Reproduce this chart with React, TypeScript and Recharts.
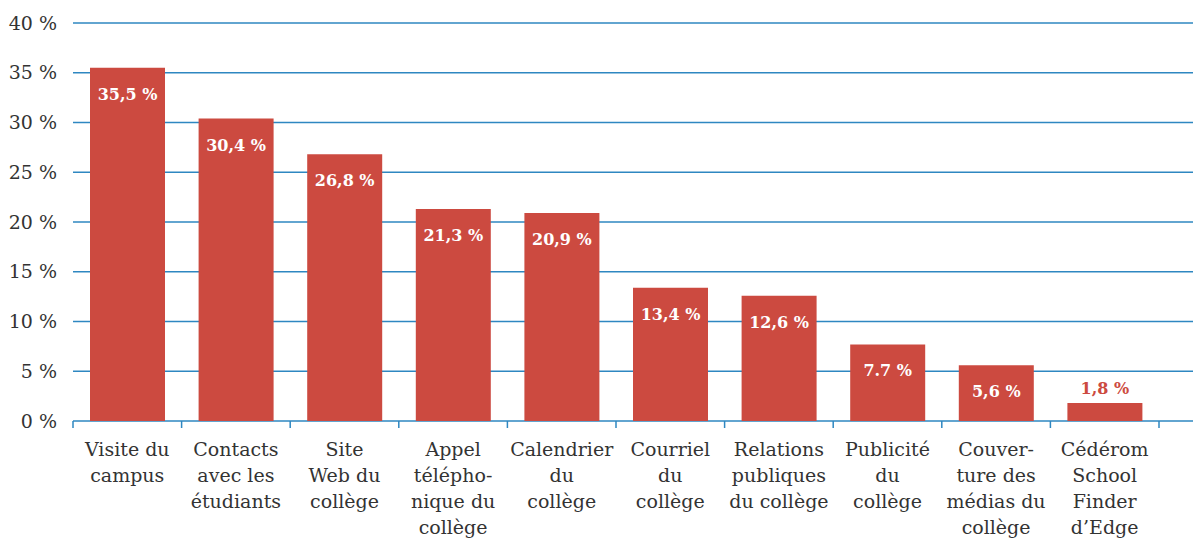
import { Bar, BarChart, CartesianGrid, LabelList, XAxis, YAxis } from "recharts";

const categories = [
  "Visite du\ncampus",
  "Contacts\navec les\nétudiants",
  "Site\nWeb du\ncollège",
  "Appel\ntélépho-\nnique du\ncollège",
  "Calendrier\ndu\ncollège",
  "Courriel\ndu\ncollège",
  "Relations\npubliques\ndu collège",
  "Publicité\ndu\ncollège",
  "Couver-\nture des\nmédias du\ncollège",
  "Cédérom\nSchool\nFinder\nd’Edge",
];

const values = [35.5, 30.4, 26.8, 21.3, 20.9, 13.4, 12.6, 7.7, 5.6, 1.8];

const valueLabels = [
  "35,5 %",
  "30,4 %",
  "26,8 %",
  "21,3 %",
  "20,9 %",
  "13,4 %",
  "12,6 %",
  "7.7 %",
  "5,6 %",
  "1,8 %",
];

const yTicks = [0, 5, 10, 15, 20, 25, 30, 35, 40];

const RED = "#cc4a40";
const BLUE = "#2e87c1";
const TEXT = "#333333";
const FONT = "'DejaVu Serif', serif";

const data = categories.map((name, i) => ({
  name,
  value: values[i],
  label: valueLabels[i],
}));

function CategoryTick(props: any) {
  const { x, y, payload, index } = props;
  const half = payload?.offset ?? 54.3;
  const lines = String(payload.value).split("\n");
  return (
    <g>
      <line x1={x - half} x2={x - half} y1={y} y2={y + 7} stroke={BLUE} strokeWidth={1.5} />
      {index === categories.length - 1 && (
        <line x1={x + half} x2={x + half} y1={y} y2={y + 7} stroke={BLUE} strokeWidth={1.5} />
      )}
      <text
        x={x}
        y={y + 35}
        textAnchor="middle"
        fill={TEXT}
        fontFamily={FONT}
        fontSize={19}
      >
        {lines.map((l, i) => (
          <tspan key={i} x={x} dy={i === 0 ? 0 : 26}>
            {l}
          </tspan>
        ))}
      </text>
    </g>
  );
}

function BarValue(props: any) {
  const { x, y, width, height, value } = props;
  const inside = height > 30;
  return (
    <text
      x={x + width / 2}
      y={inside ? y + 32 : y - 9}
      textAnchor="middle"
      fill={inside ? "#ffffff" : RED}
      fontFamily={FONT}
      fontWeight="bold"
      fontSize={16}
    >
      {value}
    </text>
  );
}

export default function App() {
  return (
    <div style={{ position: "absolute", left: 0, top: 0, background: "#fff" }}>
      <BarChart
        width={1193}
        height={539}
        data={data}
        margin={{ top: 23, right: 0, left: 0, bottom: 0 }}
        barSize={75}
      >
        <CartesianGrid vertical={false} stroke={BLUE} strokeWidth={1.5} />
        <XAxis
          dataKey="name"
          interval={0}
          height={118}
          axisLine={false}
          tickLine={false}
          tickSize={0}
          tickMargin={0}
          padding={{ left: 0, right: 34 }}
          tick={<CategoryTick />}
        />
        <YAxis
          domain={[0, 40]}
          ticks={yTicks}
          width={73}
          axisLine={false}
          tickLine={false}
          tickMargin={10}
          tickFormatter={(v: number) => `${v} %`}
          tick={{ fill: TEXT, fontFamily: FONT, fontSize: 19 }}
        />
        <Bar dataKey="value" fill={RED} isAnimationActive={false}>
          <LabelList dataKey="label" content={<BarValue />} />
        </Bar>
      </BarChart>
    </div>
  );
}
